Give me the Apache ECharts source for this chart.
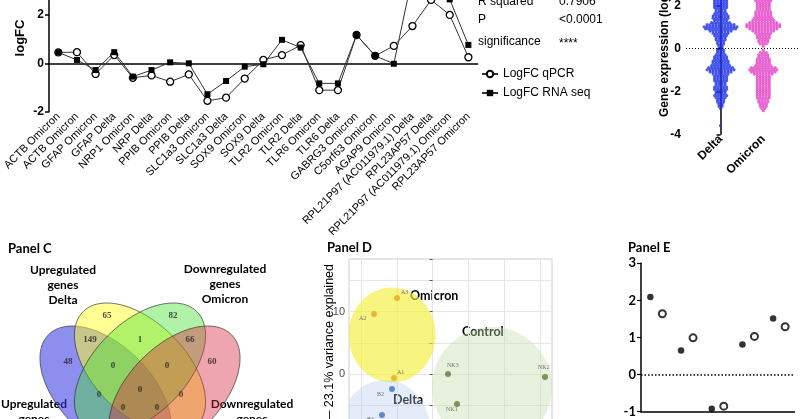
<!DOCTYPE html>
<html><head><meta charset="utf-8">
<script src="https://cdn.jsdelivr.net/npm/echarts@6/dist/echarts.min.js"></script>
<style>html,body{margin:0;padding:0;background:#fff}#c{width:800px;height:419px}</style>
</head><body><div id="c"></div>
<script>
// ---------- Panel A: logFC qPCR vs RNA seq ----------
const geneCategories = ['ACTB Omicron','ACTB Omicron','GFAP Omicron','GFAP Delta','NRP1 Omicron','NRP Delta','PPIB Omicron','PPIB Delta','SLC1a3 Omicron','SLC1a3 Delta','SOX9 Omicron','SOX9 Delta','TLR2 Omicron','TLR2 Delta','TLR6 Omicron','TLR6 Delta','GABRG3 Omicron','C5orf63 Omicron','AGAP9 Omicron','RPL21P97 (AC011979.1) Delta','RPL23AP57 Delta','RPL21P97 (AC011979.1) Omicron','RPL23AP57 Omicron'];
const logfcQpcr   = [0.45, 0.46, -0.44, 0.34, -0.60, -0.50, -0.76, -0.46, -1.55, -1.42, -0.63, 0.14, 0.34, 0.75, -1.11, -1.11, 1.17, 0.31, 0.72, 1.54, 2.62, 2.00, 0.25];
const logfcRnaseq = [0.45, 0.14, -0.28, 0.46, -0.55, -0.28, 0.04, 0.00, -1.28, -0.73, -0.14, -0.04, 0.97, 0.65, -0.83, -0.83, 1.17, 0.31, -0.02, 3.60, 3.40, 2.64, 0.76];
const statLabels = ['R squared', 'P', 'significance'];
const statValues = ['0.7906', '<0.0001', '****'];

// ---------- Panel B: swarm of gene expression ----------
const swarmGroups = ['Delta', 'Omicron'];
const deltaBins = [[2.6,3],[2.5,4],[2.4,4],[2.3,5],[2.2,5],[2.1,5],[2.0,5],[1.9,5],[1.8,4],[1.7,4],[1.6,5],[1.5,6],[1.4,6],[1.3,5],[1.2,7],[1.1,10],[1.0,12],[0.9,11],[0.8,8],[0.7,6],[0.6,5],[0.5,4],[0.4,4],[0.3,3],[0.2,3],[0.1,2],[0.0,2],[-0.1,3],[-0.2,3],[-0.3,4],[-0.4,5],[-0.5,5],[-0.6,6],[-0.7,6],[-0.8,7],[-0.9,9],[-1.0,10],[-1.1,8],[-1.2,6],[-1.3,5],[-1.4,5],[-1.5,5],[-1.6,4],[-1.7,4],[-1.8,5],[-1.9,5],[-2.0,4],[-2.1,4],[-2.2,5],[-2.3,4],[-2.4,3],[-2.5,3],[-2.6,2],[-2.7,2],[-2.8,1],[-3.6,1]];
const omicronBins = [[2.6,3],[2.5,4],[2.4,5],[2.3,5],[2.2,6],[2.1,5],[2.0,5],[1.9,5],[1.8,5],[1.7,6],[1.6,6],[1.5,6],[1.4,7],[1.3,8],[1.2,10],[1.1,12],[1.0,12],[0.9,10],[0.8,8],[0.7,6],[0.6,5],[0.5,5],[0.4,4],[0.3,4],[0.2,3],[0.1,1],[-0.1,1],[-0.2,3],[-0.3,4],[-0.4,4],[-0.5,5],[-0.6,5],[-0.7,5],[-0.8,6],[-0.9,9],[-1.0,10],[-1.1,9],[-1.2,7],[-1.3,5],[-1.4,5],[-1.5,5],[-1.6,5],[-1.7,5],[-1.8,5],[-1.9,5],[-2.0,5],[-2.1,5],[-2.2,5],[-2.3,5],[-2.4,4],[-2.5,4],[-2.6,3],[-2.7,3],[-2.8,2],[-2.9,1]];

// ---------- Panel C: Venn ----------
const vennSets = ['Upregulated\ngenes\nDelta', 'Upregulated\ngenes\nOmicron', 'Downregulated\ngenes\nOmicron', 'Downregulated\ngenes\nDelta'];
const vennCounts = [65, 82, 149, 1, 66, 48, 60, 0, 0, 0, 0, 0, 0, 0];

// ---------- Panel D: PCA ----------
const pcaOmicron = [['A3', -4.97, 12.2], ['A2', -8.19, 9.63], ['A1', -5.39, -0.64]];
const pcaDelta   = [['B2', -5.67, -2.41], ['B3', -7.07, -6.58]];
const pcaControl = [['NK3', 2.15, 0.0], ['NK2', 15.7, -0.48], ['NK1', 3.41, -4.82]];
const pcaGroupEllipses = [[-5.67, 6.26, 6.08, 7.62], [-6.65, -8.99, 6.3, 8.0], [8.3, -2.09, 8.38, 9.63]];

// ---------- Panel E ----------
const panelEGroups = ['1', '2', '3', '4', '5'];
const panelEFilled = [2.09, 0.65, -0.92, 0.81, 1.51];
const panelEOpen   = [1.64, 0.99, -0.85, 1.03, 1.29];

// ===== layout helpers =====
function swarm(bins, center, spacing) {
  const pts = [];
  bins.forEach(([v, n]) => { for (let k = 0; k < n; k++) pts.push([center + (k - (n - 1) / 2) * spacing, v]); });
  return pts;
}
const vennEllipseLayout = [[0.35, 0.47, -45], [0.5, 0.57, -45], [0.5, 0.57, 45], [0.65, 0.47, 45]];
const vennFills = ['rgba(50,50,225,0.55)', 'rgba(255,255,40,0.5)', 'rgba(70,225,50,0.42)', 'rgba(215,40,60,0.42)'];
const vennLabelPos = [[0.357,0.798],[0.643,0.798],[0.283,0.694],[0.5,0.694],[0.717,0.694],[0.187,0.598],[0.813,0.598],[0.383,0.581],[0.617,0.581],[0.5,0.477],[0.322,0.455],[0.678,0.455],[0.426,0.398],[0.574,0.398]];
const pcaFills = ['rgba(245,238,60,0.65)', 'rgba(175,200,235,0.35)', 'rgba(195,220,170,0.4)'];
const pcaLabelPos = {A3:[7,-6], A2:[-12,4], A1:[6,-6], B2:[-12,5], B3:[-12,4], NK3:[2,-9], NK2:[-4,-10], NK1:[-8,5]};

function ellipsePoints(api, cx, cy, a, b, deg) {
  const t0 = deg * Math.PI / 180, pts = [];
  for (let i = 0; i < 96; i++) {
    const t = i / 96 * Math.PI * 2;
    const x = cx + a * Math.cos(t) * Math.cos(t0) - b * Math.sin(t) * Math.sin(t0);
    const y = cy + a * Math.cos(t) * Math.sin(t0) + b * Math.sin(t) * Math.cos(t0);
    pts.push(api.coord([x, y]));
  }
  return pts;
}

const SANS = 'Liberation Sans', CAL = 'Lato';
const chart = echarts.init(document.getElementById('c'), null, {renderer: 'canvas'});

function txt(x, y, text, opt) {
  opt = opt || {};
  return Object.assign({
    type: 'text', x: x, y: y, silent: true,
    style: {text: text, fill: '#000', font: opt.font || ('12px ' + SANS),
      align: opt.align || 'left', verticalAlign: opt.va || 'middle',
      textAlign: opt.align || 'left', textVerticalAlign: opt.va || 'middle', lineHeight: opt.lh}
  }, opt.rotation ? {rotation: opt.rotation} : {});
}

const pcaSeries = (arr, color, name) => ({
  type: 'scatter', name: name, xAxisIndex: 4, yAxisIndex: 3, symbolSize: 6,
  itemStyle: {color: color},
  data: arr.map(d => ({name: d[0], value: [d[1], d[2]],
    label: {show: true, formatter: d[0], position: pcaLabelPos[d[0]], fontFamily: 'Liberation Serif', fontSize: 6, color: '#555'}}))
});

const G = {outerBoundsMode: 'none', containLabel: false};
const option = {
  animation: false,
  backgroundColor: '#fff',
  grid: [
    Object.assign({left: 49, top: -57.7, width: 428.7, height: 169.4}, G),
    Object.assign({left: 686, top: -16.2, width: 114, height: 150.5}, G),
    Object.assign({left: 25, top: 269.65, width: 230, height: 230}, G),
    Object.assign({left: 349, top: 259, width: 203, height: 239.6, show: true, borderColor: '#cfcfcf', borderWidth: 1}, G),
    Object.assign({left: 641, top: 263.3, width: 153.5, height: 148.4}, G)
  ],
  legend: {
    data: ['LogFC qPCR', 'LogFC RNA seq'], orient: 'vertical', left: 476, top: 63,
    itemWidth: 16, itemHeight: 8, itemGap: 7,
    textStyle: {fontFamily: SANS, fontSize: 12, color: '#000'}
  },
  xAxis: [
    {gridIndex: 0, type: 'category', data: geneCategories, position: 'bottom', axisLine: {show: false, onZero: false}, axisTick: {show: false},
      axisLabel: {interval: 0, rotate: 45, fontFamily: SANS, fontSize: 11, color: '#000', margin: 3}},
    {gridIndex: 0, type: 'category', data: geneCategories, position: 'bottom', axisLine: {onZero: true, lineStyle: {color: '#000', width: 1.5}},
      axisTick: {alignWithLabel: true, length: 5, lineStyle: {width: 1.5, color: '#000'}}, axisLabel: {show: false}},
    {gridIndex: 1, type: 'value', min: -0.81, max: 1.86, axisLine: {show: false}, axisTick: {show: false}, splitLine: {show: false},
      axisLabel: {customValues: [0, 1], formatter: v => swarmGroups[Math.round(v)] || '', rotate: 45, fontFamily: SANS, fontWeight: 'bold', fontSize: 12, color: '#000', margin: 3}},
    {gridIndex: 2, type: 'value', min: 0, max: 1, show: false},
    {gridIndex: 3, type: 'value', min: -11.68, max: 16.68, splitNumber: 5, axisLine: {show: false}, axisTick: {show: false}, axisLabel: {show: false},
      splitLine: {show: true, lineStyle: {color: '#e6e6e6', width: 1}}},
    {gridIndex: 4, type: 'category', data: panelEGroups, axisLine: {onZero: false, lineStyle: {color: '#000', width: 1.5}},
      axisTick: {alignWithLabel: true, length: 5, lineStyle: {width: 1.2, color: '#000'}}, axisLabel: {show: false}}
  ],
  yAxis: [
    {gridIndex: 0, type: 'value', min: -2, max: 5, interval: 2, splitLine: {show: false},
      axisLine: {show: true, lineStyle: {color: '#000', width: 1.5}}, axisTick: {show: true, length: 4, lineStyle: {width: 1.5}},
      axisLabel: {fontFamily: SANS, fontWeight: 'bold', fontSize: 12, color: '#000', margin: 5}},
    {gridIndex: 1, type: 'value', min: -4, max: 3, interval: 2, splitLine: {show: false},
      axisLine: {show: true, lineStyle: {color: '#000', width: 1.5}}, axisTick: {show: true, length: 4, lineStyle: {width: 1.5}},
      axisLabel: {fontFamily: SANS, fontWeight: 'bold', fontSize: 12, color: '#000', margin: 5}},
    {gridIndex: 2, type: 'value', min: 0, max: 1, show: false},
    {gridIndex: 3, type: 'value', min: -20, max: 18.46, interval: 5, axisLine: {show: false},
      axisTick: {show: true, length: 3, lineStyle: {color: '#555'}},
      splitLine: {show: true, lineStyle: {color: '#e6e6e6', width: 1}},
      axisLabel: {formatter: v => (v % 10 === 0 ? String(v) : ''), fontFamily: SANS, fontSize: 11, color: '#4d4d4d', margin: 4}},
    {gridIndex: 4, type: 'value', min: -1, max: 3, interval: 1, splitLine: {show: false},
      axisLine: {show: true, lineStyle: {color: '#000', width: 1.5}}, axisTick: {show: true, length: 4, lineStyle: {width: 1.2}},
      axisLabel: {fontFamily: CAL, fontWeight: 'bold', fontSize: 13, color: '#000', margin: 5}}
  ],
  series: [
    {type: 'line', name: 'LogFC qPCR', xAxisIndex: 0, yAxisIndex: 0, data: logfcQpcr,
      symbol: 'circle', symbolSize: 7, lineStyle: {color: '#333', width: 1},
      itemStyle: {color: '#fff', borderColor: '#000', borderWidth: 1.3}, z: 3},
    {type: 'line', name: 'LogFC RNA seq', xAxisIndex: 0, yAxisIndex: 0, data: logfcRnaseq,
      symbol: 'rect', symbolSize: 6, lineStyle: {color: '#333', width: 1},
      itemStyle: {color: '#000'}, z: 4},
    {type: 'scatter', name: 'Delta', xAxisIndex: 2, yAxisIndex: 1, data: swarm(deltaBins, 0, 0.07),
      symbolSize: 3.2, itemStyle: {color: '#1e32e8'},
      markLine: {silent: true, symbol: 'none', label: {show: false}, lineStyle: {type: [1, 2], color: '#000', width: 1}, data: [{yAxis: 0}]}},
    {type: 'scatter', name: 'Omicron', xAxisIndex: 2, yAxisIndex: 1, data: swarm(omicronBins, 1, 0.07),
      symbolSize: 3.2, itemStyle: {color: '#e446c8'}},
    {type: 'custom', name: 'venn', xAxisIndex: 3, yAxisIndex: 2,
      data: vennEllipseLayout.map((e, i) => [e[0], e[1], e[2], i]),
      renderItem: (params, api) => {
        const i = api.value(3);
        return {type: 'polygon', shape: {points: ellipsePoints(api, api.value(0), api.value(1), 0.35, 0.2, api.value(2))},
          style: {fill: vennFills[i], stroke: 'rgba(40,40,40,0.8)', lineWidth: 0.8}};
      }},
    {type: 'scatter', name: 'vennCounts', xAxisIndex: 3, yAxisIndex: 2, symbolSize: 1, itemStyle: {color: 'transparent'},
      data: vennCounts.map((c, i) => [vennLabelPos[i][0], vennLabelPos[i][1], c]),
      label: {show: true, position: 'inside', formatter: p => String(p.value[2]), fontFamily: 'Liberation Serif', fontWeight: 'bold', fontSize: 9, color: '#222'}},
    {type: 'custom', name: 'pcaEllipses', xAxisIndex: 4, yAxisIndex: 3, clip: true,
      data: pcaGroupEllipses.map((e, i) => [e[0], e[1], e[2], e[3], i]),
      renderItem: (params, api) => {
        const i = api.value(4);
        return {type: 'polygon', shape: {points: ellipsePoints(api, api.value(0), api.value(1), api.value(2), api.value(3), 0)},
          style: {fill: pcaFills[i]}};
      }},
    pcaSeries(pcaOmicron, '#eaa823', 'pcaOmicron'),
    pcaSeries(pcaDelta, '#3f6fc6', 'pcaDelta'),
    pcaSeries(pcaControl, '#5e7d35', 'pcaControl'),
    {type: 'scatter', name: 'E1', xAxisIndex: 5, yAxisIndex: 4, data: panelEFilled, symbol: 'circle', symbolSize: 6.5,
      symbolOffset: [-6, 0], itemStyle: {color: '#000'},
      markLine: {silent: true, symbol: 'none', label: {show: false}, lineStyle: {type: [1.5, 2], color: '#000', width: 1.5}, data: [{yAxis: 0}]}},
    {type: 'scatter', name: 'E2', xAxisIndex: 5, yAxisIndex: 4, data: panelEOpen, symbol: 'circle', symbolSize: 7,
      symbolOffset: [6, 0], itemStyle: {color: '#fff', borderColor: '#000', borderWidth: 2}}
  ],
  graphic: {elements: [
    txt(478, 2, statLabels[0]), txt(559, 2, statValues[0]),
    txt(478, 20, statLabels[1]), txt(559, 20, statValues[1]),
    txt(478, 42, statLabels[2]), txt(559, 44, statValues[2]),
    txt(20, 38, 'logFC', {font: 'bold 13px ' + SANS, align: 'center', rotation: Math.PI / 2}),
    txt(665, 117, 'Gene expression (log2 fold change)', {font: 'bold 12px ' + SANS, align: 'left', rotation: Math.PI / 2}),
    txt(8, 249, 'Panel C', {font: 'bold 13px ' + CAL}),
    txt(327, 248, 'Panel D', {font: 'bold 13px ' + CAL}),
    txt(628, 248, 'Panel E', {font: 'bold 13px ' + CAL}),
    txt(63, 263, vennSets[0], {font: 'bold 12px ' + CAL, align: 'center', va: 'top', lh: 15}),
    txt(225, 262, vennSets[2], {font: 'bold 12px ' + CAL, align: 'center', va: 'top', lh: 15}),
    txt(34, 397, vennSets[1], {font: 'bold 12px ' + CAL, align: 'center', va: 'top', lh: 15}),
    txt(252, 397, vennSets[3], {font: 'bold 12px ' + CAL, align: 'center', va: 'top', lh: 15}),
    txt(410, 296, 'Omicron', {font: 'bold 12.5px ' + CAL}),
    txt(462, 332, 'Control', {font: 'bold 12.5px ' + CAL}),
    txt(393, 400, 'Delta', {font: 'bold 12.5px ' + CAL}),
    txt(330, 264, 'PC2 \u2014 23.1% variance explained', {font: '12.5px ' + SANS, align: 'right', rotation: Math.PI / 2})
  ]}
};
chart.setOption(option);
</script>
</body></html>
